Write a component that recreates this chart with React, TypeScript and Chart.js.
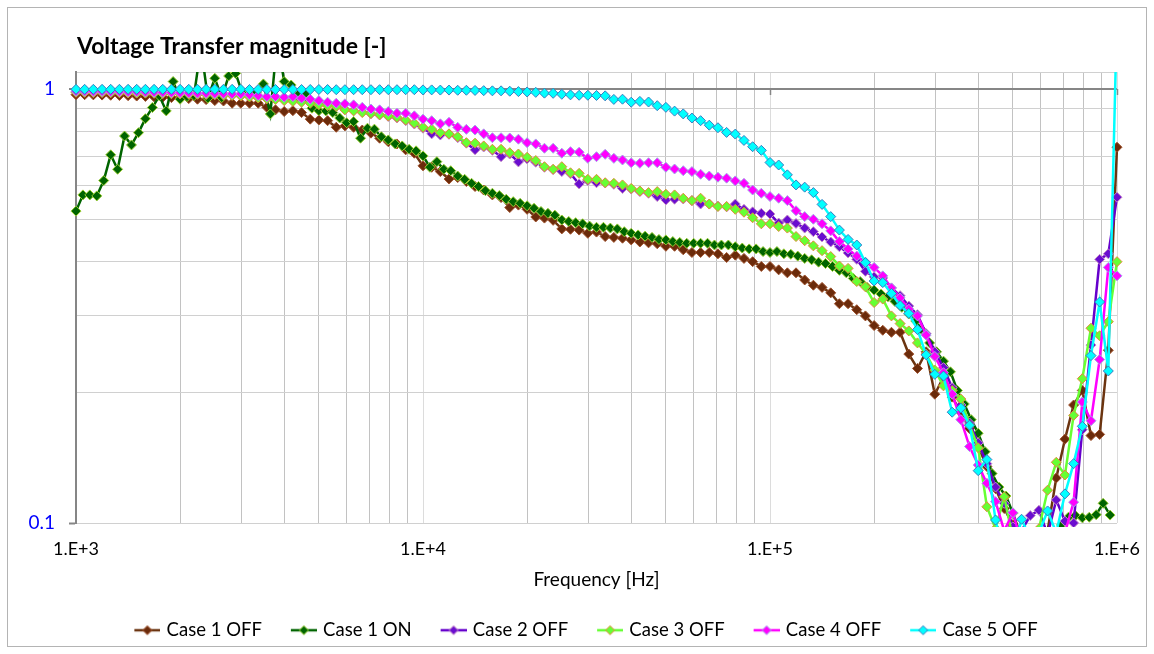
import { useEffect, useRef } from 'react';
import { Chart, registerables } from 'chart.js';

Chart.register(...registerables);

// ---------- DATA ----------
// Frequency grid of the 121-point sweeps [Hz]
const FREQ = [
  1000, 1059, 1122, 1189, 1259, 1334, 1413, 1496, 1585, 1679, 1778, 1884, 1995, 2113, 2239, 2371, 2512, 2661, 2818, 2985,
  3162, 3350, 3548, 3758, 3981, 4217, 4467, 4732, 5012, 5309, 5623, 5957, 6310, 6683, 7079, 7499, 7943, 8414, 8913, 9441,
  10000, 10593, 11220, 11885, 12589, 13335, 14125, 14962, 15849, 16788, 17783, 18836, 19953, 21135, 22387, 23714, 25119, 26607, 28184, 29854,
  31623, 33497, 35481, 37584, 39811, 42170, 44668, 47315, 50119, 53088, 56234, 59566, 63096, 66834, 70795, 74989, 79433, 84140, 89125, 94406,
  100000, 105925, 112202, 118850, 125893, 133352, 141254, 149624, 158489, 167880, 177828, 188365, 199526, 211349, 223872, 237137, 251189, 266073, 281838, 298538,
  316228, 334965, 354813, 375837, 398107, 421697, 446684, 473151, 501187, 530884, 562341, 595662, 630957, 668344, 707946, 749894, 794328, 841395, 891251, 944061,
  1000000,
];

// Frequency grid of the Case 1 ON sweep [Hz]
const FREQ_ON = [
  1000, 1047, 1096, 1148, 1202, 1259, 1318, 1380, 1445, 1514, 1585, 1660, 1738, 1820, 1905, 1995, 2089, 2188, 2291, 2399,
  2512, 2630, 2754, 2884, 3020, 3162, 3311, 3467, 3631, 3802, 3981, 4169, 4365, 4571, 4786, 5012, 5248, 5495, 5754, 6026,
  6310, 6607, 6918, 7244, 7586, 7943, 8318, 8710, 9120, 9550,
  10000, 10471, 10965, 11482, 12023, 12589, 13183, 13804, 14454, 15136, 15849, 16596, 17378, 18197, 19055, 19953, 20893, 21878, 22909, 23988,
  25119, 26303, 27542, 28840, 30200, 31623, 33113, 34674, 36308, 38019, 39811, 41687, 43652, 45709, 47863, 50119, 52481, 54954, 57544, 60256,
  63096, 66069, 69183, 72444, 75858, 79433, 83176, 87096, 91201, 95499,
  100000, 104713, 109648, 114815, 120226, 125893, 131826, 138038, 144544, 151356, 158489, 165959, 173780, 181970, 190546, 199526, 208930, 218776, 229087, 239883,
  251189, 263027, 275423, 288403, 301995, 316228, 331131, 346737, 363078, 380189, 398107, 416869, 436516, 457088, 478630, 501187, 524807, 549541, 575440, 602560,
  630957, 660693, 691831, 724436, 758578, 794328, 831764, 870964, 912011, 954993,
];

const CASE1_OFF = [
  0.970, 0.970, 0.969, 0.968, 0.967, 0.966, 0.965, 0.963, 0.961, 0.959,
  0.957, 0.955, 0.952, 0.950, 0.947, 0.945, 0.940, 0.938, 0.927, 0.927,
  0.927, 0.927, 0.907, 0.895, 0.887, 0.891, 0.882, 0.852, 0.848, 0.845,
  0.816, 0.822, 0.816, 0.804, 0.791, 0.770, 0.756, 0.747, 0.724, 0.711,
  0.665, 0.660, 0.645, 0.620, 0.625, 0.612, 0.596, 0.585, 0.570, 0.562,
  0.533, 0.540, 0.528, 0.507, 0.504, 0.498, 0.476, 0.475, 0.473, 0.465,
  0.468, 0.457, 0.455, 0.453, 0.449, 0.444, 0.442, 0.440, 0.434, 0.434,
  0.426, 0.420, 0.420, 0.420, 0.417, 0.409, 0.414, 0.407, 0.400, 0.390,
  0.390, 0.383, 0.377, 0.377, 0.363, 0.353, 0.349, 0.339, 0.320, 0.320,
  0.310, 0.300, 0.285, 0.278, 0.275, 0.275, 0.245, 0.227, 0.248, 0.198,
  0.217, 0.195, 0.180, 0.165, 0.150, 0.135, 0.120, 0.108, 0.099, 0.090,
  0.088, 0.090, 0.096, 0.127, 0.156, 0.187, 0.202, 0.159, 0.160, 0.250,
  0.734,
];

const CASE1_ON = [
  0.523, 0.570, 0.570, 0.567, 0.615, 0.705, 0.653, 0.779, 0.743, 0.793,
  0.854, 0.906, 0.964, 0.890, 1.040, 0.947, 0.960, 0.965, 1.250, 0.952,
  1.058, 0.955, 1.071, 1.086, 0.975, 0.965, 0.980, 1.027, 0.876, 1.300,
  1.040, 1.021, 0.969, 0.974, 0.903, 0.891, 0.890, 0.882, 0.857, 0.836,
  0.841, 0.770, 0.812, 0.808, 0.776, 0.763, 0.747, 0.739, 0.726, 0.720,
  0.701, 0.660, 0.680, 0.653, 0.648, 0.630, 0.619, 0.606, 0.596, 0.583,
  0.575, 0.568, 0.557, 0.550, 0.545, 0.538, 0.531, 0.522, 0.517, 0.512,
  0.499, 0.495, 0.492, 0.489, 0.483, 0.480, 0.480, 0.478, 0.476, 0.469,
  0.465, 0.461, 0.458, 0.455, 0.450, 0.449, 0.445, 0.443, 0.441, 0.441,
  0.441, 0.441, 0.437, 0.437, 0.437, 0.433, 0.430, 0.428, 0.428, 0.422,
  0.420, 0.422, 0.417, 0.416, 0.412, 0.407, 0.404, 0.399, 0.396, 0.390,
  0.382, 0.377, 0.366, 0.360, 0.349, 0.344, 0.337, 0.332, 0.324, 0.314,
  0.303, 0.292, 0.277, 0.260, 0.248, 0.236, 0.223, 0.202, 0.188, 0.173,
  0.161, 0.146, 0.130, 0.121, 0.1154, 0.1053, 0.095, 0.090, 0.088, 0.088,
  0.090, 0.094, 0.099, 0.1031, 0.1041, 0.1028, 0.1031, 0.1045, 0.111, 0.1043,
];

const CASE2_OFF = [
  0.984, 0.984, 0.983, 0.983, 0.982, 0.982, 0.981, 0.980, 0.980, 0.979,
  0.978, 0.977, 0.976, 0.975, 0.974, 0.973, 0.972, 0.971, 0.970, 0.968,
  0.963, 0.958, 0.953, 0.950, 0.946, 0.944, 0.940, 0.933, 0.925, 0.918,
  0.912, 0.898, 0.892, 0.885, 0.877, 0.871, 0.864, 0.857, 0.845, 0.830,
  0.812, 0.788, 0.783, 0.786, 0.772, 0.750, 0.724, 0.735, 0.722, 0.698,
  0.708, 0.679, 0.690, 0.678, 0.660, 0.652, 0.645, 0.638, 0.604, 0.615,
  0.608, 0.607, 0.603, 0.590, 0.588, 0.580, 0.575, 0.565, 0.555, 0.557,
  0.558, 0.553, 0.543, 0.543, 0.537, 0.535, 0.543, 0.528, 0.521, 0.517,
  0.515, 0.491, 0.499, 0.490, 0.478, 0.469, 0.456, 0.444, 0.433, 0.419,
  0.405, 0.380, 0.369, 0.367, 0.348, 0.334, 0.316, 0.302, 0.273, 0.248,
  0.228, 0.205, 0.187, 0.170, 0.153, 0.137, 0.121, 0.111, 0.098, 0.096,
  0.104, 0.107, 0.094, 0.113, 0.101, 0.100, 0.164, 0.257, 0.405, 0.417,
  0.563,
];

const CASE3_OFF = [
  0.982, 0.982, 0.981, 0.981, 0.980, 0.980, 0.979, 0.978, 0.978, 0.977,
  0.976, 0.975, 0.974, 0.973, 0.972, 0.971, 0.970, 0.968, 0.966, 0.963,
  0.958, 0.953, 0.949, 0.945, 0.940, 0.936, 0.932, 0.927, 0.920, 0.915,
  0.911, 0.895, 0.890, 0.882, 0.878, 0.872, 0.866, 0.860, 0.848, 0.834,
  0.816, 0.808, 0.793, 0.788, 0.776, 0.752, 0.750, 0.739, 0.726, 0.726,
  0.713, 0.708, 0.696, 0.684, 0.662, 0.653, 0.662, 0.641, 0.639, 0.619,
  0.619, 0.608, 0.606, 0.601, 0.590, 0.582, 0.577, 0.580, 0.572, 0.570,
  0.560, 0.553, 0.560, 0.543, 0.536, 0.536, 0.528, 0.520, 0.505, 0.489,
  0.489, 0.482, 0.478, 0.457, 0.447, 0.435, 0.424, 0.411, 0.391, 0.386,
  0.360, 0.350, 0.322, 0.328, 0.300, 0.288, 0.277, 0.260, 0.245, 0.225,
  0.207, 0.202, 0.193, 0.168, 0.149, 0.109, 0.097, 0.115, 0.092, 0.090,
  0.088, 0.097, 0.119, 0.138, 0.129, 0.177, 0.215, 0.281, 0.270, 0.291,
  0.400,
];

const CASE4_OFF = [
  0.988, 0.988, 0.987, 0.987, 0.986, 0.986, 0.985, 0.985, 0.984, 0.983,
  0.982, 0.981, 0.980, 0.979, 0.978, 0.977, 0.976, 0.975, 0.974, 0.974,
  0.969, 0.965, 0.960, 0.960, 0.957, 0.960, 0.952, 0.947, 0.940, 0.932,
  0.927, 0.924, 0.919, 0.907, 0.899, 0.895, 0.887, 0.879, 0.879, 0.867,
  0.852, 0.845, 0.831, 0.838, 0.816, 0.807, 0.804, 0.788, 0.772, 0.772,
  0.771, 0.766, 0.752, 0.747, 0.730, 0.730, 0.711, 0.717, 0.715, 0.692,
  0.698, 0.707, 0.692, 0.686, 0.676, 0.674, 0.676, 0.676, 0.660, 0.654,
  0.648, 0.645, 0.636, 0.630, 0.626, 0.623, 0.614, 0.606, 0.585, 0.575,
  0.565, 0.560, 0.553, 0.524, 0.508, 0.501, 0.489, 0.471, 0.445, 0.428,
  0.412, 0.399, 0.388, 0.371, 0.348, 0.330, 0.311, 0.300, 0.271, 0.242,
  0.222, 0.198, 0.173, 0.150, 0.136, 0.1235, 0.112, 0.096, 0.1056, 0.090,
  0.085, 0.085, 0.088, 0.090, 0.095, 0.1117, 0.190, 0.172, 0.238, 0.388,
  0.371,
];

const CASE5_OFF = [
  0.998, 0.998, 0.998, 0.998, 0.998, 0.998, 0.998, 0.998, 0.998, 0.998,
  0.998, 0.998, 0.998, 0.998, 0.998, 0.998, 0.998, 0.998, 0.998, 0.998,
  0.997, 0.997, 0.997, 0.997, 0.997, 0.997, 0.997, 0.997, 0.997, 0.997,
  0.996, 0.996, 0.996, 0.996, 0.996, 0.996, 0.996, 0.996, 0.996, 0.996,
  0.995, 0.995, 0.994, 0.994, 0.993, 0.993, 0.992, 0.991, 0.990, 0.990,
  0.988, 0.986, 0.984, 0.982, 0.978, 0.977, 0.972, 0.969, 0.967, 0.967,
  0.966, 0.964, 0.946, 0.947, 0.932, 0.936, 0.933, 0.915, 0.907, 0.889,
  0.876, 0.857, 0.845, 0.825, 0.814, 0.794, 0.787, 0.761, 0.736, 0.722,
  0.677, 0.668, 0.634, 0.601, 0.594, 0.577, 0.542, 0.508, 0.473, 0.450,
  0.437, 0.398, 0.361, 0.358, 0.338, 0.317, 0.304, 0.279, 0.244, 0.220,
  0.218, 0.180, 0.184, 0.168, 0.132, 0.140, 0.1016, 0.085, 0.085, 0.102,
  0.092, 0.095, 0.1066, 0.095, 0.1167, 0.137, 0.167, 0.243, 0.323, 0.224,
  1.5,
];

const SERIES_NAMES = ['Case 1 OFF', 'Case 1 ON', 'Case 2 OFF', 'Case 3 OFF', 'Case 4 OFF', 'Case 5 OFF'];
const SERIES_Y = [CASE1_OFF, CASE1_ON, CASE2_OFF, CASE3_OFF, CASE4_OFF, CASE5_OFF];
const SERIES_X = [FREQ, FREQ_ON, FREQ, FREQ, FREQ, FREQ];
const LINE_COLORS = ['#6B3410', '#006400', '#6600CC', '#66FF33', '#FF00FF', '#00FFFF'];
const MARKER_FILL = ['#6B2B0B', '#006400', '#6A0DCF', '#66FF33', '#FF00FF', '#00FFFF'];
const MARKER_EDGE = ['#A0522D', '#9ACD32', '#C890C8', '#E3893A', '#A0A8E8', '#3A7CC0'];
const DRAW_ORDER = [5, 4, 3, 2, 1, 0];

const TITLE = 'Voltage Transfer magnitude [-]';
const X_TITLE = 'Frequency [Hz]';
const X_DECADES = [1000, 10000, 100000];
const X_MULTIPLES = [1, 2, 3, 4, 5, 6, 7, 8, 9];
const X_MAJOR = [1000, 10000, 100000, 1000000];
const X_TICK_LABELS = ['1.E+3', '1.E+4', '1.E+5', '1.E+6'];
const Y_GRID = [0.1, 0.2, 0.3, 0.4, 0.5, 0.6, 0.7, 0.8, 0.9, 1];
const Y_MAJOR = [0.1, 1];
const Y_TICK_LABELS = ['0.1', '1'];
const X_MIN = 1000;
const X_MAX = 1000000;
const Y_MIN = 0.1;
const Y_MAX = 1.094;

// ---------- LAYOUT / STYLE ----------
const W = 1138;
const H = 638;
const FONT = 'Lato';
const LEG_FONT = 18.5;
const LEG_PAD = 10;
const LEG_GAP = 22;
const LEG_SYM = 26;
const LEG_OVER = 3;
const PAD_LEFT = 28;

const near = (a: number | undefined, b: number) => a !== undefined && Math.abs(a - b) < b * 1e-6;
const xTickValues: number[] = [];
X_DECADES.forEach((d) => X_MULTIPLES.forEach((m) => xTickValues.push(d * m)));
xTickValues.push(X_MAX);
const yTickValues = [...Y_GRID, Y_MAX];

function legendSymbol(line: string, fill: string, edge: string): HTMLCanvasElement {
  const c = document.createElement('canvas');
  c.width = LEG_GAP + LEG_SYM;
  c.height = 12;
  const g = c.getContext('2d')!;
  g.strokeStyle = line;
  g.lineWidth = 2.5;
  g.beginPath();
  g.moveTo(LEG_GAP, 6);
  g.lineTo(LEG_GAP + LEG_SYM, 6);
  g.stroke();
  const cx = LEG_GAP + LEG_SYM / 2;
  g.beginPath();
  g.moveTo(cx - 4.5, 6);
  g.lineTo(cx, 1.5);
  g.lineTo(cx + 4.5, 6);
  g.lineTo(cx, 10.5);
  g.closePath();
  g.fillStyle = fill;
  g.fill();
  g.strokeStyle = edge;
  g.lineWidth = 1;
  g.stroke();
  return c;
}

const titlePlugin = {
  id: 'vtTitle',
  afterDraw(chart: any) {
    const { ctx, chartArea } = chart;
    ctx.save();
    ctx.font = `bold 23px ${FONT}`;
    ctx.fillStyle = '#000';
    ctx.textBaseline = 'alphabetic';
    ctx.textAlign = 'left';
    ctx.fillText(TITLE, chartArea.left + 1, 46);
    ctx.restore();
  },
};

// widen the y-axis label area to the canvas edge so the tick labels are not clipped
const yLabelAreaPlugin = {
  id: 'yLabelArea',
  afterLayout(chart: any) {
    const ys = chart.scales.y;
    if (ys) ys.left = 0;
  },
};

const crossTicksPlugin = {
  id: 'crossTicks',
  beforeDatasetsDraw(chart: any) {
    const { ctx } = chart;
    const xs = chart.scales.x;
    const ys = chart.scales.y;
    const py = Math.round(ys.getPixelForValue(1));
    ctx.save();
    ctx.strokeStyle = '#868686';
    ctx.lineWidth = 1.5;
    ctx.beginPath();
    X_MAJOR.forEach((v) => {
      const px = Math.round(xs.getPixelForValue(v)) + 0.5;
      ctx.moveTo(px, py);
      ctx.lineTo(px, py + 6);
    });
    ctx.stroke();
    ctx.restore();
  },
};

export default function App() {
  const ref = useRef<HTMLCanvasElement>(null);

  useEffect(() => {
    const canvas = ref.current;
    if (!canvas) return;
    const symbols = SERIES_NAMES.map((_, i) => legendSymbol(LINE_COLORS[i], MARKER_FILL[i], MARKER_EDGE[i]));
    const datasets = SERIES_NAMES.map((name, i) => ({
      label: name,
      data: SERIES_X[i].map((f, k) => ({ x: f, y: SERIES_Y[i][k] })),
      borderColor: LINE_COLORS[i],
      backgroundColor: MARKER_FILL[i],
      borderWidth: 2.5,
      pointStyle: 'rectRot',
      pointRadius: 5,
      pointBackgroundColor: MARKER_FILL[i],
      pointBorderColor: MARKER_EDGE[i],
      pointBorderWidth: 1,
      tension: 0,
      fill: false,
      order: DRAW_ORDER[i],
      clip: { left: 8, top: 0, right: 8, bottom: 4 },
    }));

    const chart = new Chart(canvas, {
      type: 'line',
      data: { datasets } as any,
      plugins: [titlePlugin, crossTicksPlugin, yLabelAreaPlugin],
      options: {
        responsive: false,
        maintainAspectRatio: false,
        animation: false,
        devicePixelRatio: 1,
        events: [],
        layout: { padding: { top: 64, left: PAD_LEFT, right: 29, bottom: 0 } },
        plugins: {
          title: { display: false },
          tooltip: { enabled: false },
          legend: {
            position: 'bottom',
            maxHeight: 35,
            labels: {
              usePointStyle: true,
              pointStyleWidth: LEG_GAP + LEG_SYM - 2 * LEG_OVER,
              padding: LEG_PAD,
              color: '#000',
              font: { family: FONT, size: LEG_FONT },
              generateLabels: (ch: any) =>
                ch.data.datasets.map((ds: any, i: number) => ({
                  text: ds.label,
                  pointStyle: symbols[i],
                  fillStyle: MARKER_FILL[i],
                  strokeStyle: LINE_COLORS[i],
                  lineWidth: 0,
                  hidden: false,
                  datasetIndex: i,
                  fontColor: '#000',
                })),
            },
          },
        },
        scales: {
          x: {
            type: 'logarithmic',
            min: X_MIN,
            max: X_MAX,
            afterBuildTicks: (s: any) => {
              s.ticks = xTickValues.map((v) => ({ value: v }));
            },
            afterFit: (s: any) => {
              s.height = 88;
              s.paddingLeft = 0;
              s.paddingRight = 0;
            },
            grid: {
              color: (c: any) => (X_MAJOR.some((m) => near(c.tick?.value, m)) ? '#dcdcdc' : '#c2c2c2'),
              lineWidth: 1,
              drawTicks: false,
            },
            border: { display: false },
            ticks: {
              autoSkip: false,
              maxRotation: 0,
              minRotation: 0,
              padding: 15,
              color: '#000',
              font: { family: FONT, size: 18 },
              callback: (v: any) => {
                const idx = X_MAJOR.findIndex((m) => near(Number(v), m));
                return idx >= 0 ? X_TICK_LABELS[idx] : '';
              },
            },
            title: {
              display: true,
              text: X_TITLE,
              color: '#000',
              font: { family: FONT, size: 19 },
              padding: { top: 0, bottom: 19.6 },
            },
          },
          y: {
            type: 'logarithmic',
            min: Y_MIN,
            max: Y_MAX,
            afterBuildTicks: (s: any) => {
              s.ticks = yTickValues.map((v) => ({ value: v }));
            },
            afterFit: (s: any) => {
              s.width = 68 - PAD_LEFT;
              s.paddingTop = 0;
              s.paddingBottom = 0;
            },
            grid: {
              color: (c: any) => (near(c.tick?.value, 1) ? '#868686' : '#d0d0d0'),
              lineWidth: (c: any) => (near(c.tick?.value, 1) ? 2 : 1),
              drawTicks: true,
              tickLength: 7,
              tickWidth: 2,
              tickColor: (c: any) => (Y_MAJOR.some((m) => near(c.tick?.value, m)) ? '#868686' : 'rgba(0,0,0,0)'),
            },
            border: { display: true, color: '#868686', width: 2 },
            ticks: {
              autoSkip: false,
              padding: 14,
              color: '#0000FF',
              font: { family: FONT, size: 19 },
              callback: (v: any) => {
                const idx = Y_MAJOR.findIndex((m) => near(Number(v), m));
                return idx >= 0 ? Y_TICK_LABELS[idx] : '';
              },
            },
          },
        },
      } as any,
    });
    return () => chart.destroy();
  }, []);

  return (
    <div
      style={{
        position: 'absolute',
        left: 7,
        top: 7,
        width: W,
        height: H,
        border: '1px solid #b4b4b4',
        background: '#fff',
      }}
    >
      <canvas ref={ref} width={W} height={H} style={{ display: 'block', width: W, height: H }} />
    </div>
  );
}
